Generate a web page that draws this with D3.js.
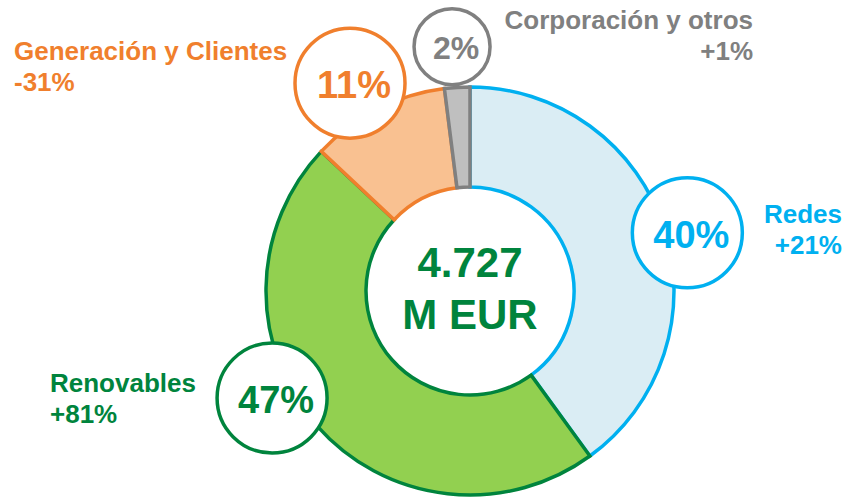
<!DOCTYPE html>
<html>
<head>
<meta charset="utf-8">
<script src="https://cdn.jsdelivr.net/npm/d3@7"></script>
<style>
  html, body { margin: 0; padding: 0; background: #fff; }
  svg { display: block; font-family: "Liberation Sans", Arial, sans-serif; font-weight: bold; }
</style>
</head>
<body>
<svg id="chart" width="848" height="498"></svg>
<script>
// data
const segments = ["Redes", "Renovables", "Generación y Clientes", "Corporación y otros"];
const shares = [40, 47, 11, 2];
const changes = ["+21%", "+81%", "-31%", "+1%"];
const totalValue = "4.727";
const totalUnit = "M EUR";

// styles
const fills = ["#daedf4", "#92d050", "#f9c191", "#bfbfbf"];
const strokes = ["#00b0f0", "#00843d", "#f07f2d", "#808080"];
const textColors = ["#00b0f0", "#00843d", "#f07f2d", "#808080"];

// layout: bubble angle (deg, clockwise from top), distance, radius, font size
const bubbles = [
  { angle: 75, dist: 225, r: 55, fs: 38 },
  { angle: 241.6, dist: 225, r: 55, fs: 38 },
  { angle: 330, dist: 240, r: 55, fs: 38 },
  { angle: 355.8, dist: 245, r: 38, fs: 32 }
];
// layout: segment name label, x, y of first baseline, anchor
const labelPos = [
  { x: 842, y: 223, anchor: "end" },
  { x: 50, y: 392, anchor: "start" },
  { x: 14, y: 60, anchor: "start" },
  { x: 753, y: 29, anchor: "end" }
];

const svg = d3.select("#chart");
const cx = 470, cy = 291;
const innerR = 104, outerR = 204;

const pie = d3.pie().sort(null).value(d => d)(shares);
const arc = d3.arc().innerRadius(innerR).outerRadius(outerR);

const g = svg.append("g").attr("transform", `translate(${cx},${cy})`);

g.selectAll("path.slice")
  .data(pie)
  .enter()
  .append("path")
  .attr("class", "slice")
  .attr("d", arc)
  .attr("fill", (d, i) => fills[i])
  .attr("stroke", (d, i) => strokes[i])
  .attr("stroke-width", 3.5)
  .attr("stroke-linejoin", "miter");

// center total
g.append("text")
  .attr("text-anchor", "middle")
  .attr("y", -14)
  .attr("font-size", 42)
  .attr("fill", "#00843d")
  .text(totalValue);
g.append("text")
  .attr("text-anchor", "middle")
  .attr("y", 38)
  .attr("font-size", 42)
  .attr("fill", "#00843d")
  .text(totalUnit);

// percentage bubbles
const bub = g.selectAll("g.bubble")
  .data(shares)
  .enter()
  .append("g")
  .attr("class", "bubble")
  .attr("transform", (d, i) => {
    const a = bubbles[i].angle * Math.PI / 180;
    const x = Math.sin(a) * bubbles[i].dist;
    const y = -Math.cos(a) * bubbles[i].dist;
    return `translate(${x},${y})`;
  });

bub.append("circle")
  .attr("r", (d, i) => bubbles[i].r)
  .attr("fill", "#fff")
  .attr("stroke", (d, i) => strokes[i])
  .attr("stroke-width", 3.5);

bub.append("text")
  .attr("text-anchor", "middle")
  .attr("x", 4)
  .attr("dy", "0.4em")
  .attr("font-size", (d, i) => bubbles[i].fs)
  .attr("fill", (d, i) => textColors[i])
  .text(d => d + "%");

// segment labels
const lab = svg.selectAll("text.seg")
  .data(segments)
  .enter()
  .append("text")
  .attr("class", "seg")
  .attr("font-size", 26)
  .attr("fill", (d, i) => textColors[i])
  .attr("text-anchor", (d, i) => labelPos[i].anchor);

lab.append("tspan")
  .attr("x", (d, i) => labelPos[i].x)
  .attr("y", (d, i) => labelPos[i].y)
  .text(d => d);
lab.append("tspan")
  .attr("x", (d, i) => labelPos[i].x)
  .attr("y", (d, i) => labelPos[i].y + 31)
  .text((d, i) => changes[i]);
</script>
</body>
</html>
